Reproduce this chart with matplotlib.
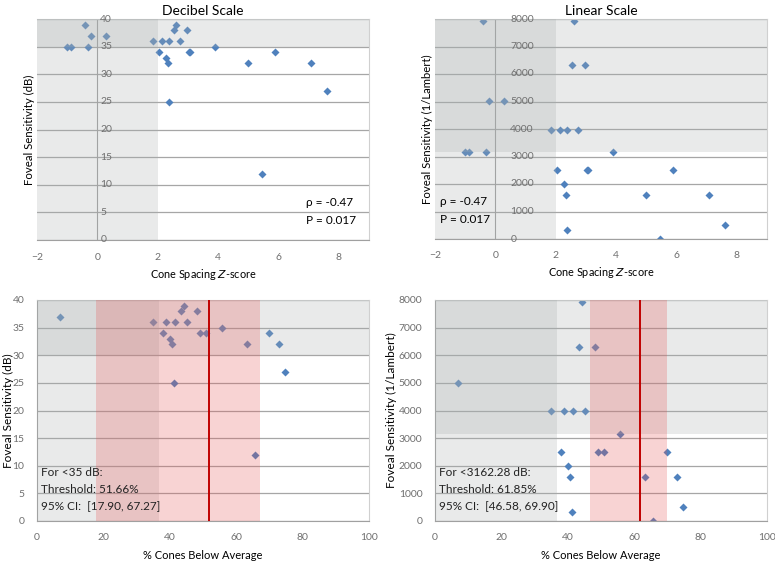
import matplotlib.pyplot as plt

plt.rcParams['font.family'] = ['Lato', 'DejaVu Sans']

# top row: cone spacing z-score vs foveal sensitivity
z_score = [-0.99, -0.87, -0.41, -0.32, -0.20, 0.28, 1.85, 2.05, 2.15, 2.28, 2.33, 2.37, 2.38,
           2.54, 2.60, 2.73, 2.98, 3.05, 3.08, 3.90, 5.00, 5.44, 5.89, 7.09, 7.62]
z_db = [35, 35, 39, 35, 37, 37, 36, 34, 36, 33, 32, 25, 36,
        38, 39, 36, 38, 34, 34, 35, 32, 12, 34, 32, 27]
z_lin = [3162, 3162, 7943, 3162, 5012, 5012, 3981, 2512, 3981, 1995, 1585, 316, 3981,
         6310, 7943, 3981, 6310, 2512, 2512, 3162, 1585, 15.8, 2512, 1585, 501]

# bottom row: % cones below average vs foveal sensitivity
pct_below = [6.8, 34.9, 37.9, 38.8, 40.2, 40.7, 41.3, 41.6, 43.4, 44.2,
             45.2, 48.1, 49.0, 50.8, 55.8, 63.2, 65.7, 70.0, 73.0, 74.7]
pct_db = [37, 36, 34, 36, 33, 32, 25, 36, 38, 39,
          36, 38, 34, 34, 35, 32, 12, 34, 32, 27]
pct_lin = [5012, 3981, 2512, 3981, 1995, 1585, 316, 3981, 6310, 7943,
           3981, 6310, 2512, 2512, 3162, 1585, 15.8, 2512, 1585, 501]

db_cut, lin_cut = 35, 3162.28
db_band, lin_band = 30, 3162.28      # gray band in the bottom panels
z_cut, pct_cut = 2, 36.7
thr_db, ci_db = 51.66, (17.90, 67.27)
thr_lin, ci_lin = 61.85, (46.58, 69.90)

BLUE = '#4f81bd'
GRAY = '#a8aeae'
GRID = '#a6a6a6'
TICK = '#6f6f6f'
PINK = '#e65050'
RED = '#c00000'

fig = plt.figure(figsize=(7.75, 5.62), dpi=100)
W, H = 775, 562


def axes_px(left, top, right, bottom):
    return fig.add_axes([left / W, 1 - bottom / H, (right - left) / W, (bottom - top) / H])


def style(ax):
    ax.grid(axis='y', color=GRID, lw=0.9, zorder=0)
    ax.set_axisbelow(True)
    for s in ['top', 'right']:
        ax.spines[s].set_color('#d0d0d0')
        ax.spines[s].set_linewidth(0.8)
    for s in ['left', 'bottom']:
        ax.spines[s].set_color('#a0a0a0')
        ax.spines[s].set_linewidth(0.8)
    ax.tick_params(length=0, labelsize=7.5, colors=TICK, pad=9)


def place_labels(ax, ylab_x):
    ax.xaxis.set_label_coords(0.5, -0.154)
    ax.xaxis.label.set_va('center')
    ax.yaxis.set_label_coords(ylab_x, 0.5)
    ax.yaxis.label.set_va('center')


def top_panel(ax, y, ymax, ystep, cut, title, ylabel, label_dx):
    ax.plot(z_score, y, 'D', color=BLUE, ms=4, mec='none', zorder=2)
    ax.set_xlim(-2, 9)
    ax.set_ylim(0, ymax)
    ax.axvspan(-2, z_cut, color=GRAY, alpha=0.25, lw=0, zorder=3)
    ax.axhspan(cut, ymax, color=GRAY, alpha=0.25, lw=0, zorder=3)
    ax.axvline(0, color='#a0a0a0', lw=0.8, zorder=1)
    style(ax)
    ax.spines['left'].set_visible(False)
    ax.set_xticks([-2, 0, 2, 4, 6, 8])
    yt = list(range(0, ymax + 1, ystep))
    ax.set_yticks(yt)
    ax.tick_params(axis='y', labelleft=False)
    for v in yt:
        ax.annotate(str(v), (0, v), xytext=(label_dx, 0), textcoords='offset pixels',
                    ha='left', va='center', fontsize=7.5, color=TICK, zorder=4,
                    annotation_clip=False)
    ax.set_title(title, fontsize=10, pad=3)
    ax.set_xlabel('Cone Spacing $\\it{Z}$-score', fontsize=7.8)
    ax.set_ylabel(ylabel, fontsize=8.2)
    place_labels(ax, -0.024)


def bottom_panel(ax, y, ymax, ystep, band, thr, ci, ylabel, note, ylab_x):
    ax.plot(pct_below, y, 'D', color=BLUE, ms=4, mec='none', zorder=2)
    ax.set_xlim(0, 100)
    ax.set_ylim(0, ymax)
    ax.axvspan(0, pct_cut, color=GRAY, alpha=0.25, lw=0, zorder=3)
    ax.axhspan(band, ymax, color=GRAY, alpha=0.25, lw=0, zorder=3)
    ax.axvspan(ci[0], ci[1], color=PINK, alpha=0.25, lw=0, zorder=4)
    ax.axvline(thr, color=RED, lw=1.4, zorder=5)
    style(ax)
    ax.set_xticks(range(0, 101, 20))
    ax.set_yticks(range(0, ymax + 1, ystep))
    ax.set_xlabel('% Cones Below Average', fontsize=8)
    ax.set_ylabel(ylabel, fontsize=8.5)
    place_labels(ax, ylab_x)
    lines = [f'For <{note} dB:', f'Threshold: {thr:.2f}%', f'95% CI:  [{ci[0]:.2f}, {ci[1]:.2f}]']
    for i, t in enumerate(lines):
        ax.text(0.013, 0.22 - i * 0.077, t, transform=ax.transAxes, fontsize=8.5,
                ha='left', va='center', color='#222222', zorder=6)


ax1 = axes_px(37, 19, 369, 240)
top_panel(ax1, z_db, 40, 5, db_cut, 'Decibel Scale', 'Foveal Sensitivity (dB)', 3)
ax1.text(0.81, 0.169, 'ρ = -0.47', transform=ax1.transAxes, fontsize=8.5, va='center', zorder=6)
ax1.text(0.81, 0.088, 'P = 0.017', transform=ax1.transAxes, fontsize=8.5, va='center', zorder=6)

ax2 = axes_px(435, 19, 767, 239)
top_panel(ax2, z_lin, 8000, 1000, lin_cut, 'Linear Scale', 'Foveal Sensitivity (1/Lambert)', 15)
ax2.text(0.015, 0.171, 'ρ = -0.47', transform=ax2.transAxes, fontsize=8.5, va='center', zorder=6)
ax2.text(0.015, 0.088, 'P = 0.017', transform=ax2.transAxes, fontsize=8.5, va='center', zorder=6)

ax3 = axes_px(37, 300, 369, 521)
bottom_panel(ax3, pct_db, 40, 5, db_band, thr_db, ci_db, 'Foveal Sensitivity (dB)', '35', -0.087)

ax4 = axes_px(435, 300, 767, 521)
bottom_panel(ax4, pct_lin, 8000, 1000, lin_band, thr_lin, ci_lin,
             'Foveal Sensitivity (1/Lambert)', '3162.28', -0.13)

fig.savefig('out.png', dpi=100)
